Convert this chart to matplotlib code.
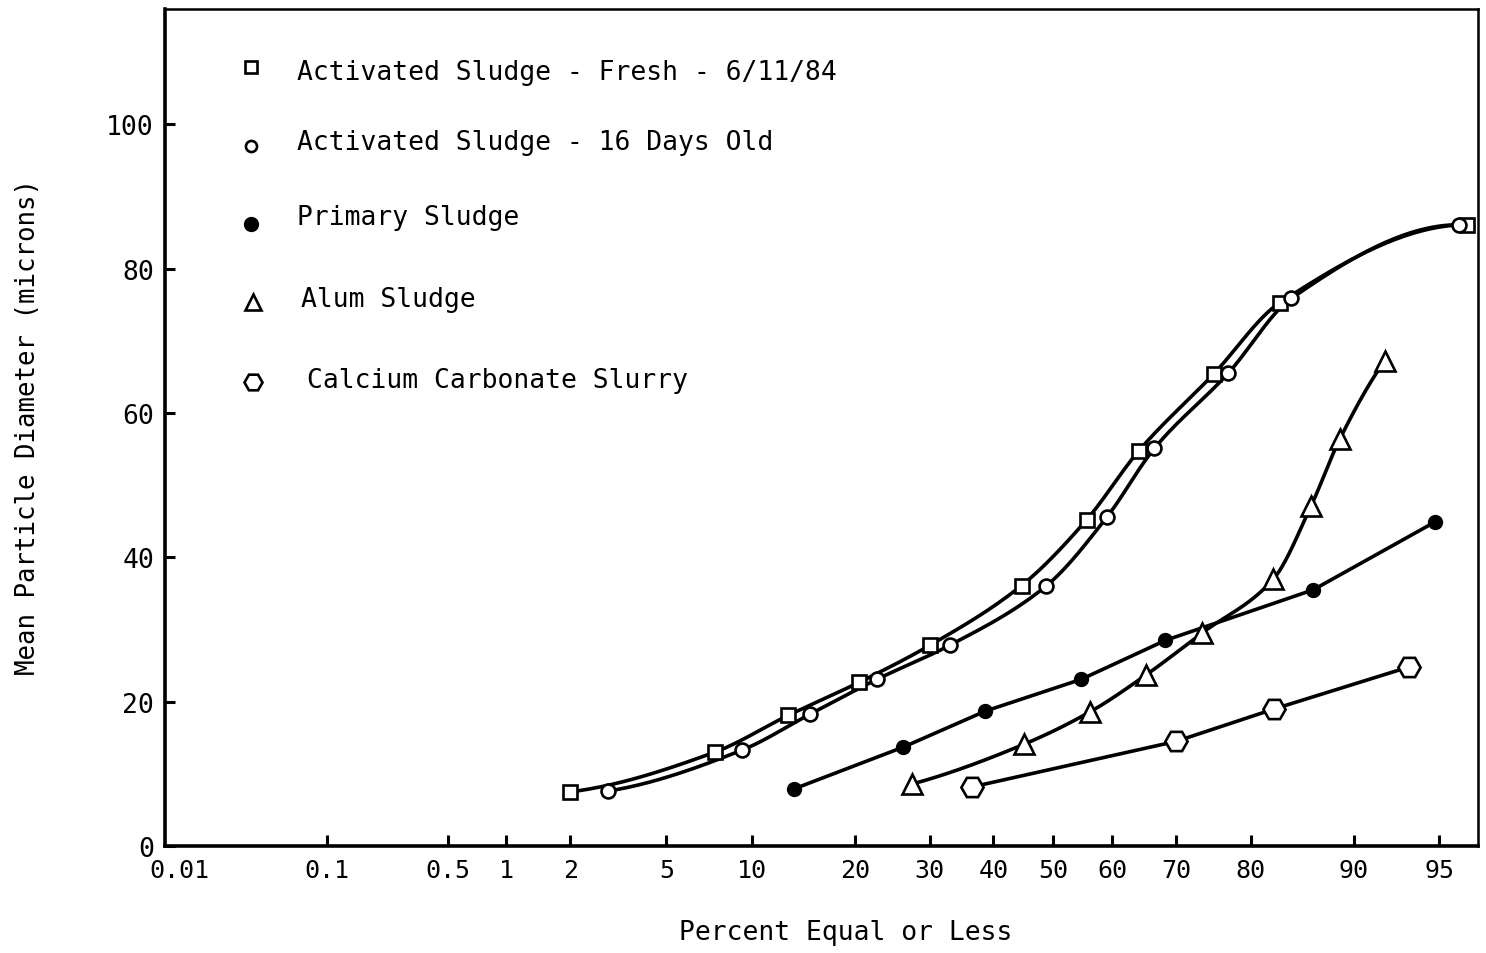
import math
import numpy as np
import matplotlib
matplotlib.use("Agg")
import matplotlib.pyplot as plt
from matplotlib.ticker import NullLocator

plt.rcParams["font.family"] = ["DejaVu Sans Mono", "DejaVu Sans"]

# ---- data: cumulative percent (equal or less) vs mean particle diameter (microns)
fresh_pct = [2.0, 7.5, 13.0, 20.5, 30.0, 44.7, 55.7, 64.3, 75.3, 83.3, 96.1]
fresh_um = [7.5, 13.0, 18.1, 22.7, 27.8, 36.1, 45.2, 54.8, 65.4, 75.3, 86.1]

old_pct = [2.9, 9.3, 15.1, 22.7, 33.0, 48.8, 59.1, 66.7, 77.2, 84.5, 95.8]
old_um = [7.6, 13.3, 18.3, 23.1, 27.8, 36.0, 45.6, 55.1, 65.5, 75.9, 86.1]

primary_pct = [13.5, 26.2, 38.7, 54.8, 68.4, 86.6, 94.8]
primary_um = [7.9, 13.7, 18.7, 23.1, 28.5, 35.5, 44.9]

alum_pct = [27.5, 45.1, 56.3, 65.4, 73.7, 82.6, 86.4, 88.9, 92.1]
alum_um = [8.6, 14.1, 18.6, 23.7, 29.5, 37.0, 47.1, 56.4, 67.2]

calcium_pct = [36.6, 70.0, 82.7, 93.5]
calcium_um = [8.2, 14.5, 19.0, 24.8]

x_tick_values = [0.01, 0.1, 0.5, 1, 2, 5, 10, 20, 30, 40, 50, 60, 70, 80, 90, 95]
x_tick_labels = ["0.01", "0.1", "0.5", "1", "2", "5", "10", "20", "30", "40",
                 "50", "60", "70", "80", "90", "95"]
y_tick_values = [0, 20, 40, 60, 80, 100]

legend_labels = [
    "Activated Sludge - Fresh - 6/11/84",
    "Activated Sludge - 16 Days Old",
    "Primary Sludge",
    "Alum Sludge",
    "Calcium Carbonate Slurry",
]


# ---- normal-probability scale
_A = [-3.969683028665376e+01, 2.209460984245205e+02, -2.759285104469687e+02,
      1.383577518672690e+02, -3.066479806614716e+01, 2.506628277459239e+00]
_B = [-5.447609879822406e+01, 1.615858368580409e+02, -1.556989798598866e+02,
      6.680131188771972e+01, -1.328068155288572e+01]
_C = [-7.784894002430293e-03, -3.223964580411365e-01, -2.400758277161838e+00,
      -2.549732539343734e+00, 4.374664141464968e+00, 2.938163982698783e+00]
_D = [7.784695709041462e-03, 3.224671290700398e-01, 2.445134137142996e+00,
      3.754408661907416e+00]

_erf = np.vectorize(math.erf, otypes=[float])


def norm_cdf(z):
    z = np.asarray(z, dtype=float)
    return 0.5 * (1.0 + _erf(z / math.sqrt(2.0)))


def norm_ppf(p):
    p = np.clip(np.asarray(p, dtype=float), 1e-12, 1 - 1e-12)
    plow = 0.02425
    out = np.empty_like(p)
    lo = p < plow
    hi = p > 1 - plow
    mid = ~(lo | hi)
    if lo.any():
        q = np.sqrt(-2 * np.log(p[lo]))
        out[lo] = (((((_C[0] * q + _C[1]) * q + _C[2]) * q + _C[3]) * q + _C[4]) * q + _C[5]) / \
                  ((((_D[0] * q + _D[1]) * q + _D[2]) * q + _D[3]) * q + 1)
    if hi.any():
        q = np.sqrt(-2 * np.log(1 - p[hi]))
        out[hi] = -(((((_C[0] * q + _C[1]) * q + _C[2]) * q + _C[3]) * q + _C[4]) * q + _C[5]) / \
                   ((((_D[0] * q + _D[1]) * q + _D[2]) * q + _D[3]) * q + 1)
    if mid.any():
        q = p[mid] - 0.5
        r = q * q
        out[mid] = (((((_A[0] * r + _A[1]) * r + _A[2]) * r + _A[3]) * r + _A[4]) * r + _A[5]) * q / \
                   (((((_B[0] * r + _B[1]) * r + _B[2]) * r + _B[3]) * r + _B[4]) * r + 1)
    return out


def pct_to_z(pct):
    return norm_ppf(np.asarray(pct, dtype=float) / 100.0)


def z_to_pct(z):
    return 100.0 * norm_cdf(z)


def smooth_curve(pct, vals, n=40):
    """Monotone cubic (Fritsch-Carlson) curve through the points in probit space."""
    x = pct_to_z(pct)
    y = np.asarray(vals, dtype=float)
    h = np.diff(x)
    delta = np.diff(y) / h
    m = np.zeros_like(y)
    for k in range(1, len(y) - 1):
        if delta[k - 1] * delta[k] > 0:
            w1 = 2 * h[k] + h[k - 1]
            w2 = h[k] + 2 * h[k - 1]
            m[k] = (w1 + w2) / (w1 / delta[k - 1] + w2 / delta[k])
    m[0] = ((2 * h[0] + h[1]) * delta[0] - h[0] * delta[1]) / (h[0] + h[1])
    if m[0] * delta[0] <= 0:
        m[0] = 0
    m[-1] = ((2 * h[-1] + h[-2]) * delta[-1] - h[-1] * delta[-2]) / (h[-1] + h[-2])
    if m[-1] * delta[-1] <= 0:
        m[-1] = 0
    xs, ys = [], []
    for k in range(len(h)):
        t = np.linspace(0, 1, n)
        if k > 0:
            t = t[1:]
        h00 = 2 * t ** 3 - 3 * t ** 2 + 1
        h10 = t ** 3 - 2 * t ** 2 + t
        h01 = -2 * t ** 3 + 3 * t ** 2
        h11 = t ** 3 - t ** 2
        xs.append(x[k] + t * h[k])
        ys.append(h00 * y[k] + h10 * h[k] * m[k] + h01 * y[k + 1] + h11 * h[k] * m[k + 1])
    return z_to_pct(np.concatenate(xs)), np.concatenate(ys)


# ---- figure
W, H = 1486, 954
fig = plt.figure(figsize=(W / 100, H / 100), dpi=100)
ax_l, ax_r, ax_t, ax_b = 165, 1478, 10, 847
ax = fig.add_axes([ax_l / W, 1 - ax_b / H, (ax_r - ax_l) / W, (ax_b - ax_t) / H])

ax.set_xscale("function", functions=(pct_to_z, z_to_pct))
ax.set_xlim(0.00787, 96.48)
ax.set_ylim(0, 116)

LW = 2.6
edge = dict(markeredgecolor="black", markeredgewidth=1.9, markerfacecolor="white")

# smooth fitted curves
for pct, vals in [(fresh_pct, fresh_um), (old_pct, old_um), (alum_pct, alum_um)]:
    cx, cy = smooth_curve(pct, vals)
    ax.plot(cx, cy, color="black", lw=LW, zorder=2, solid_capstyle="round")
# straight fitted lines
for pct, vals in [(primary_pct, primary_um), (calcium_pct, calcium_um)]:
    ax.plot(pct, vals, color="black", lw=LW, zorder=2, solid_capstyle="round")

ax.plot(fresh_pct, fresh_um, ls="none", marker="s", markersize=10.5, zorder=3,
        clip_on=False, **edge)
ax.plot(old_pct, old_um, ls="none", marker="o", markersize=10, zorder=3,
        clip_on=False, **edge)
ax.plot(primary_pct, primary_um, ls="none", marker="o", markersize=10,
        markerfacecolor="black", markeredgecolor="black", zorder=3, clip_on=False)
ax.plot(alum_pct, alum_um, ls="none", marker="^", markersize=14, zorder=3,
        clip_on=False, **edge)
ax.plot(calcium_pct, calcium_um, ls="none", marker="H", markersize=16, zorder=3,
        clip_on=False, **edge)

# ---- axes styling
for side in ["left", "bottom"]:
    ax.spines[side].set_linewidth(2.6)
for side in ["top", "right"]:
    ax.spines[side].set_linewidth(1.8)

ax.set_xticks(x_tick_values)
ax.set_xticklabels(x_tick_labels)
ax.xaxis.set_minor_locator(NullLocator())
ax.tick_params(axis="x", direction="in", length=8, width=2.2, pad=9, labelsize=18)
ax.xaxis.get_major_ticks()[0].tick1line.set_visible(False)

ax.set_yticks(y_tick_values)
ax.set_yticklabels([str(v) for v in y_tick_values])
ax.yaxis.set_minor_locator(NullLocator())
ax.tick_params(axis="y", direction="in", length=7, width=2.2, pad=8, labelsize=19)

# ---- legend drawn as marker + text rows
def to_axes(px, py):
    return (px - ax_l) / (ax_r - ax_l), (ax_b - py) / (ax_b - ax_t)

legend_rows = [
    (dict(marker="s", markersize=8, **edge), 251, 68, 297, 73),
    (dict(marker="o", markersize=8, **edge), 251, 147, 297, 143),
    (dict(marker="o", markersize=10, markerfacecolor="black", markeredgecolor="black"),
     251, 225, 297, 218),
    (dict(marker="^", markersize=12, **edge), 253, 303, 301, 300),
    (dict(marker="H", markersize=13, **edge), 253, 383, 307, 381),
]
for label, (mk, mx, my, tx, ty) in zip(legend_labels, legend_rows):
    ax.plot(*[[v] for v in to_axes(mx, my)], ls="none", transform=ax.transAxes,
            clip_on=False, zorder=4, **mk)
    x0, y0 = to_axes(tx, ty)
    ax.text(x0, y0, label, transform=ax.transAxes, ha="left", va="center", fontsize=19)

fig.text(846 / W, 1 - 933 / H, "Percent Equal or Less", ha="center", va="center",
         fontsize=19)
fig.text(28 / W, 1 - 427 / H, "Mean Particle Diameter (microns)", ha="center",
         va="center", rotation=90, fontsize=18.5)

fig.savefig("out.png", dpi=100, facecolor="white")
